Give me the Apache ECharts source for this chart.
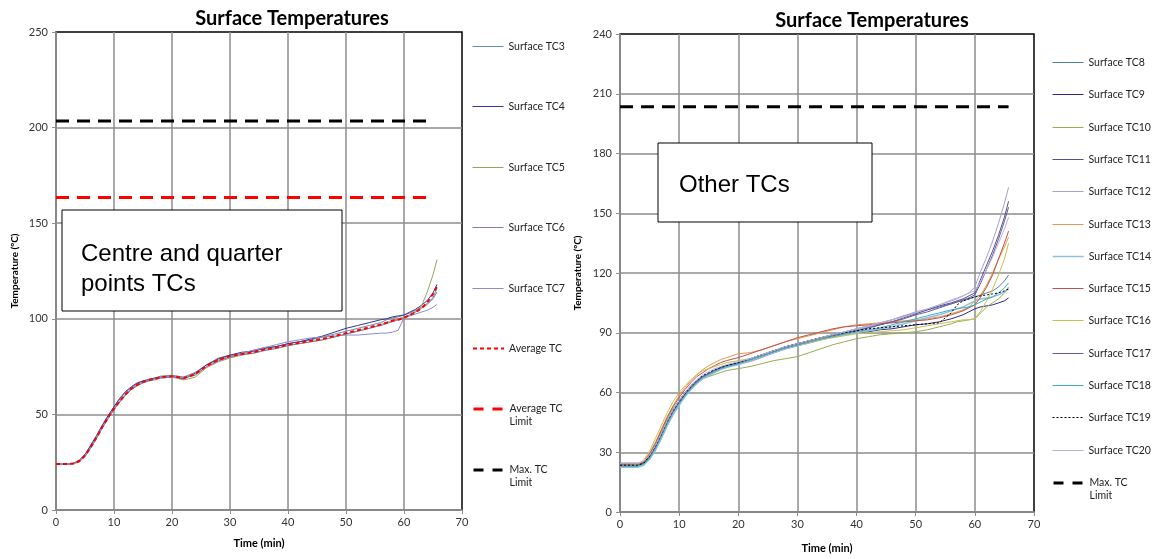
<!DOCTYPE html>
<html>
<head>
<meta charset="utf-8">
<title>Surface Temperatures</title>
<script src="https://cdn.jsdelivr.net/npm/echarts@6/dist/echarts.min.js"></script>
<style>
  html, body { margin: 0; padding: 0; background: #fff; }
  #main { width: 1160px; height: 559px; }
</style>
</head>
<body>
<div id="main"></div>
<script>
// time of each reading (min), shared by every trace
var time = [0,1,2,3,4, 5,6,7,8,9, 10,11,12,13,14, 15,16,17,18, 20,22,24,26,28, 30,32,34,36,38, 40,42,44,46,48, 50,52,54,56, 57,58,59,60,61,62,63,64,65, 65.7];

// axis ticks
var xTicks = [0, 10, 20, 30, 40, 50, 60, 70];
var leftYTicks = [0, 50, 100, 150, 200, 250];
var rightYTicks = [0, 30, 60, 90, 120, 150, 180, 210, 240];

// ---- left chart: centre and quarter points ----
var tc3 = [24,24,23.8,24.2,25.8, 29,33.5,38.5,44,49, 54,58,61.5,64,66, 67.5,68.5,69,70, 70.5,69.5,72,76,79.5, 81,82,83.5,85,85.5, 87,88,89,90.5,92, 93.5,95,96.5,98, 99.5,100.5,101,102,103,104.5,106,108,111, 116];
var tc4 = [24,24,24,24.5,26, 29,34,39,44.5,49.5, 54,58.5,62,64.5,66.5, 67.5,68,69,69.5, 70,68.5,71.5,76,79, 81,82.5,83,84.5,85.5, 87,88,89.5,91,93, 95,96.5,98,99.5, 100,101,101.5,102,103.5,105,107,109.5,113.5, 118];
var tc5 = [24,24,24,24.2,25, 28,32.5,37.5,43,48, 52.5,56.5,60,63,65, 66.5,67.5,68,69, 69.5,68,69.5,74.5,77.5, 79.5,81,82,83.5,84.5, 86,87,88,89,90.5, 92,93.5,95,97, 98,99,100,101,102,104,106.5,114,123, 131];
var tc6 = [24,24,24.2,24.4,25.5, 28,32.5,37.5,43,48, 52.5,56.5,60,63,65, 66.5,67.5,68.5,69, 69.5,69,70.5,75,78, 80,81.5,82,83.5,84.5, 86,87,88,89,90.5, 92,93.5,95,96.5, 97.5,98.5,99.5,100.5,102,103.5,105.5,107.5,110.5, 114];
var tc7 = [24,24,24,24.2,25.5, 28.5,33,38,43.5,48.5, 53,57,60.5,63.5,65.5, 67,68,68.5,69.5, 70,69.5,71,75,78.5, 80.5,82,83.5,85,86.5, 88,89,90,90.5,91, 91.5,91.5,92,92.5, 92.5,93,94,100.5,101.5,102.5,103.5,104.5,106, 107.5];
var avgTC = [24,24,24,24.3,25.5, 28.5,33,38,43.5,48.5, 53,57,60.5,63.5,65.5, 67,68,68.5,69.5, 70,69,71,75.5,78.5, 80.5,81.5,82.5,84,85, 86.5,87.5,88.5,89.5,91, 92.5,94,95.5,97, 98,99,99.5,100.5,102,103.5,105.5,108.5,113, 117];

// ---- right chart: other TCs ----
var tc8 = [23,23,23,23,24, 27,31.5,37,43.5,49, 54,58,62,65,67.5, 69.5,71,72,73, 74.5,76,78,80.5,82.5, 84,86,87.5,89,90.5, 92,93.5,95,96.5,98.5, 100,101.5,103,104.5, 105.5,106,107,108,109,110,111,113,116, 119];
var tc9 = [24,24,24,24,25, 28.5,33.5,39.5,46,51.5, 56,60,63.5,66,68, 69.5,71,72.5,73.5, 74.5,76,78,80,82, 83.5,85,86.5,88,89, 90,90.5,91.5,92,93, 94,94.5,95.5,97, 98,99,100.5,102,103,103.5,104,105,106, 107.5];
var tc10 = [23.5,23.5,23.5,23.5,24.5, 28.5,34,40,46.5,52, 56,59.5,62.5,65,67, 68,69,70,71, 72,73,74.5,76,77, 78,80,82,84,85.5, 87,88,89,89.5,90, 90.5,91.5,93,94.5, 95.5,96,96.5,97,100,103,105,107,110, 113];
var tc11 = [24.5,24.5,24.5,24.5,25, 28,32.5,38.5,45,50.5, 55,59,62.5,65.5,68, 69.5,71,72.5,73.5, 75,77,79,81,83, 84.5,86,87.5,88.5,90, 91,92.5,94,95.5,97.5, 99.5,101.5,103.5,105, 106,107,108.5,110,117,124,131,139,148, 156];
var tc12 = [24,24,24,24,25, 28.5,33.5,39,45.5,51, 55.5,59.5,63,66,68, 69.5,71,72,73, 74,75.5,77.5,80,82, 84,85.5,87,88.5,90, 91.5,93,94.5,96.5,98.5, 100.5,102,104,106, 107,108.5,110,113,121,128,136,145,155, 163];
var tc13 = [24,24,24,24,25.5, 29.5,35,41.5,48,53.5, 58.5,62.5,66,69,71.5, 73.5,75,76.5,77.5, 79.5,80,81.5,83.5,85.5, 87,88.5,90,91.5,93, 94,94.5,95,95.5,96, 96.5,97,98,99.5, 100.5,101.5,103,106,109,114,120,127,133, 138];
var tc14 = [22.5,22.5,22.5,22.5,23.5, 26.5,31,37,43.5,49, 53.5,58,61.5,64.5,67, 68.5,70,71.5,72.5, 74,76,78,80,82, 83.5,85,86.5,88,89, 90,91,92,93,94.5, 96,97.5,99,101, 102,103,104.5,106,107,107.5,108,109,110.5, 112];
var tc15 = [24,24,24,24,25, 29,34.5,41,47.5,53, 57.5,61.5,65,68,70, 72,73.5,75,76, 77.5,79.5,81.5,83.5,85.5, 87.5,89,90.5,92,93, 93.5,94,94.5,95,95.5, 96,96.5,97.5,99, 100,101,102.5,104,108,113,119,127,135, 141];
var tc16 = [23.5,23.5,23.5,24,26, 30.5,37,43.5,50,55.5, 60,63.5,66.5,69,71, 72,73,74,75, 76,77,79,81,82.5, 84,85,86.5,87.5,88.5, 89.5,90,90.5,91,91.5, 92.5,93.5,94.5,95.5, 96,96.5,96.5,97,101,106,112,119,127, 135];
var tc17 = [23.5,23.5,23.5,23.5,24.5, 27.5,32.5,38.5,45,50.5, 55,59,62.5,65.5,68, 69.5,71,72.5,73.5, 75,76.5,78.5,80.5,82.5, 84,85.5,87,88.5,89.5, 91,92.5,94,95.5,97, 99,100.5,102.5,104.5, 105.5,106.5,107.5,109,115,122,129,137,146, 153];
var tc18 = [23,23,23,23,24, 27,32,38,44.5,50, 54.5,58.5,62,65,67.5, 69,70.5,72,73, 74.5,76.5,78.5,80.5,82.5, 84,85.5,87,88,89.5, 90.5,91.5,92.5,94,95.5, 97,98.5,100,101.5, 102,102.5,103,104,105.5,107,108,110,112.5, 115];
var tc19 = [23.5,23.5,23.5,23.5,24.5, 28,33,39,45.5,51, 55.5,59.5,63,66,68.5, 70,71.5,72.5,73.5, 75,77,79,81,83, 84.5,86,87.5,89,90, 91,92,92.5,93,93.5, 94,94.5,95,100, 104,106,107,108,108.5,109,109.5,110,111, 112];
var tc20 = [24.5,24.5,24.5,24.5,25.5, 28.5,33.5,39.5,46,51.5, 56,60,63.5,66.5,69, 70.5,72,73,74, 75.5,77,79,81,83, 84.5,86,87.5,89,90.5, 92,93.5,95,96.5,98, 100,102,104,106.5, 107.5,108.5,110,111,116,122,128,135,142, 148];

// limits (ºC) and the time span they are drawn over
var avgLimit = 163.5;
var maxLimit = 203.5;
var limitSpanLeft = [0, 65];
var limitSpanRight = [0, 65.7];

var FONT = 'Lato, "Open Sans", sans-serif';
var GRID_GREY = '#8c8c8c';

// line look per series name (also used for the legend keys)
var looks = {
  'Surface TC3':  { color: '#6b8cb0', width: 1 },
  'Surface TC4':  { color: '#35359a', width: 1 },
  'Surface TC5':  { color: '#9fa060', width: 1 },
  'Surface TC6':  { color: '#7e7ea8', width: 1 },
  'Surface TC7':  { color: '#8c8cc6', width: 1 },
  'Average TC':   { color: '#ff0000', width: 2, type: [4, 3] },
  'Average TC Limit': { color: '#ff0000', width: 3, type: [13, 8], legendType: [10, 9] },
  'Max. TC Limit':    { color: '#000000', width: 3, type: [13, 8], legendType: [10, 9] },
  'Surface TC8':  { color: '#4f81a0', width: 1 },
  'Surface TC9':  { color: '#2f2a80', width: 1 },
  'Surface TC10': { color: '#9bab50', width: 1 },
  'Surface TC11': { color: '#5c4d86', width: 1 },
  'Surface TC12': { color: '#a89ed6', width: 1 },
  'Surface TC13': { color: '#e39a4e', width: 1 },
  'Surface TC14': { color: '#8ec0e0', width: 1.5 },
  'Surface TC15': { color: '#c0504d', width: 1 },
  'Surface TC16': { color: '#c8c050', width: 1 },
  'Surface TC17': { color: '#6658a8', width: 1 },
  'Surface TC18': { color: '#40b0b8', width: 1 },
  'Surface TC19': { color: '#000000', width: 1, type: [2, 2] },
  'Surface TC20': { color: '#bdb3d6', width: 1 }
};

function pairs(values) {
  return time.map(function (t, i) { return [t, values[i]]; });
}

function flat(value, span) {
  return [[span[0], value], [span[1], value]];
}

function lineSeries(name, data, idx, z) {
  var lk = looks[name];
  return {
    name: name, type: 'line', xAxisIndex: idx, yAxisIndex: idx,
    data: data, symbol: 'none', showSymbol: false, color: lk.color, z: z || 2,
    lineStyle: { color: lk.color, width: lk.width, type: lk.type || 'solid' }
  };
}

function xAxisFor(idx, nameGap) {
  return {
    type: 'value', gridIndex: idx,
    min: xTicks[0], max: xTicks[xTicks.length - 1], interval: xTicks[1] - xTicks[0],
    name: 'Time (min)', nameLocation: 'middle', nameGap: nameGap,
    nameTextStyle: { fontFamily: FONT, fontWeight: 'bold', fontSize: 11, color: '#000' },
    axisLine: { lineStyle: { color: GRID_GREY, width: 1.5 } },
    axisTick: { show: true, length: 4, lineStyle: { color: GRID_GREY } },
    axisLabel: { fontFamily: FONT, fontSize: 11, color: '#333', margin: 7 },
    splitLine: { show: true, showMaxLine: false, lineStyle: { color: GRID_GREY, width: 1.5 } }
  };
}

function yAxisFor(idx, ticks, nameGap) {
  return {
    type: 'value', gridIndex: idx,
    min: ticks[0], max: ticks[ticks.length - 1], interval: ticks[1] - ticks[0],
    name: 'Temperature (ºC)', nameLocation: 'middle', nameGap: nameGap,
    nameTextStyle: { fontFamily: FONT, fontWeight: 'bold', fontSize: 10, color: '#000' },
    axisLine: { show: true, lineStyle: { color: GRID_GREY, width: 1.5 } },
    axisTick: { show: true, length: 4, lineStyle: { color: GRID_GREY } },
    axisLabel: { fontFamily: FONT, fontSize: 11, color: '#333', margin: 8 },
    splitLine: { show: true, showMaxLine: false, lineStyle: { color: GRID_GREY, width: 1.5 } }
  };
}

// one legend block per entry, so the spacing follows the original sheet.
// two-line keys get a blank first line so the key sits level with "Average TC" / "Max. TC"
function legendColumn(names, left, y0, step) {
  return names.map(function (n, i) {
    var lk = looks[n];
    var twoLine = n.indexOf('Limit') >= 0;
    var y = Math.round(y0 + step * i);
    return {
      data: [n], left: left, top: y - (twoLine ? 19.5 : 7), padding: 0,
      itemWidth: 31, itemHeight: 14, selectedMode: false,
      itemStyle: { opacity: 0 },
      lineStyle: { color: lk.color, width: lk.width, type: lk.legendType || lk.type || 'solid', opacity: 1 },
      formatter: function (name) {
        return name.indexOf(' Limit') >= 0 ? '\n' + name.replace(' Limit', '\nLimit') : name;
      },
      textStyle: { fontFamily: FONT, fontSize: 10.5, color: '#222', lineHeight: 13 }
    };
  });
}

var leftNames = ['Surface TC3', 'Surface TC4', 'Surface TC5', 'Surface TC6', 'Surface TC7',
                 'Average TC', 'Average TC Limit', 'Max. TC Limit'];
var rightNames = ['Surface TC8', 'Surface TC9', 'Surface TC10', 'Surface TC11', 'Surface TC12',
                  'Surface TC13', 'Surface TC14', 'Surface TC15', 'Surface TC16', 'Surface TC17',
                  'Surface TC18', 'Surface TC19', 'Surface TC20', 'Max. TC Limit'];
var leftTraces = [tc3, tc4, tc5, tc6, tc7];
var rightTraces = [tc8, tc9, tc10, tc11, tc12, tc13, tc14, tc15, tc16, tc17, tc18, tc19, tc20];

var series = [];
leftTraces.forEach(function (v, i) { series.push(lineSeries(leftNames[i], pairs(v), 0)); });
series.push(lineSeries('Average TC', pairs(avgTC), 0, 3));
series.push(lineSeries('Average TC Limit', flat(avgLimit, limitSpanLeft), 0, 4));
series.push(lineSeries('Max. TC Limit', flat(maxLimit, limitSpanLeft), 0, 4));
rightTraces.forEach(function (v, i) { series.push(lineSeries(rightNames[i], pairs(v), 1)); });
series.push(lineSeries('Max. TC Limit', flat(maxLimit, limitSpanRight), 1, 4));

var myChart = echarts.init(document.getElementById('main'));

myChart.setOption({
  animation: false,
  backgroundColor: '#fff',
  title: [
    { text: 'Surface Temperatures', left: 287, top: 4, textAlign: 'center',
      textStyle: { fontFamily: FONT, fontWeight: 'bold', fontSize: 20, color: '#000' } },
    { text: 'Surface Temperatures', left: 867, top: 6, textAlign: 'center',
      textStyle: { fontFamily: FONT, fontWeight: 'bold', fontSize: 20, color: '#000' } }
  ],
  grid: [
    { left: 56, top: 32, width: 406, height: 478, show: true, borderColor: '#000', borderWidth: 1.5 },
    { left: 620, top: 34, width: 414, height: 479, show: true, borderColor: '#000', borderWidth: 1.5 }
  ],
  xAxis: [xAxisFor(0, 28), xAxisFor(1, 31)],
  yAxis: [yAxisFor(0, leftYTicks, 36), yAxisFor(1, rightYTicks, 37)],
  legend: legendColumn(leftNames, 472, 47, 60.4).concat(legendColumn(rightNames, 1052, 63, 32.3)),
  tooltip: { show: false },
  series: series,
  graphic: [
    { type: 'rect', shape: { x: 62, y: 210, width: 280, height: 101 },
      style: { fill: '#fff', stroke: '#000', lineWidth: 1 }, z: 10 },
    { type: 'text', x: 81, y: 239, z: 11,
      style: { text: 'Centre and quarter\npoints TCs', font: '24px "Liberation Sans", Arial, sans-serif',
               fill: '#000', lineHeight: 30, verticalAlign: 'top' } },
    { type: 'rect', shape: { x: 658, y: 143, width: 214, height: 79 },
      style: { fill: '#fff', stroke: '#000', lineWidth: 1 }, z: 10 },
    { type: 'text', x: 679, y: 170, z: 11,
      style: { text: 'Other TCs', font: '24px "Liberation Sans", Arial, sans-serif',
               fill: '#000', lineHeight: 30, verticalAlign: 'top' } }
  ]
});
</script>
</body>
</html>
